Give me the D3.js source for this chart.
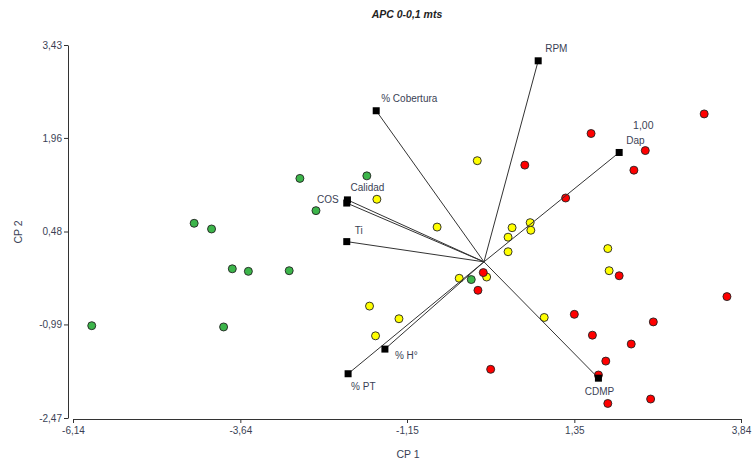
<!DOCTYPE html>
<html>
<head>
<meta charset="utf-8">
<script src="https://cdn.jsdelivr.net/npm/d3@7"></script>
<style>
  body { margin: 0; background: #fff; }
  text { font-family: "Liberation Sans", Arial, sans-serif; }
</style>
</head>
<body>
<div id="chart"></div>
<script>
// APC biplot - scores by group + variable vectors

var xTicks = [-6.14, -3.64, -1.15, 1.35, 3.84];
var yTicks = [-2.47, -0.99, 0.48, 1.96, 3.43];

// scores (CP1, CP2) per group
var greenX = [-5.86, -3.89, -4.33, -4.07, -3.76, -3.52, -2.91, -2.75, -2.51, -1.75, -0.19];
var greenY = [-1.01, -1.03, 0.61, 0.52, -0.11, -0.15, -0.14, 1.32, 0.81, 1.36, -0.28];

var yellowX = [-1.60, -0.10, -0.70, 0.69, 0.42, 0.70, 0.36, 0.36, -0.37, 0.04, -1.71, -1.27, -1.62, 0.90, 1.85, 1.87];
var yellowY = [0.99, 1.60, 0.55, 0.62, 0.54, 0.50, 0.39, 0.16, -0.26, -0.24, -0.70, -0.90, -1.17, -0.88, 0.21, -0.14];

var redX = [0.61, 1.22, -0.01, -0.09, 0.10, 3.29, 1.60, 2.41, 2.24, 2.02, 3.63, 1.35, 2.53, 1.62, 2.20, 1.82, 1.71, 1.85, 2.49];
var redY = [1.53, 1.01, -0.17, -0.45, -1.70, 2.34, 2.03, 1.76, 1.45, -0.22, -0.55, -0.83, -0.95, -1.16, -1.30, -1.57, -1.79, -2.24, -2.17];

// variable vectors
var varNames = ["RPM", "% Cobertura", "COS", "Calidad", "Ti", "Dap", "CDMP", "% H°", "% PT"];
var varX = [0.81, -1.61, -2.05, -2.04, -2.05, 2.02, 1.71, -1.48, -2.03];
var varY = [3.18, 2.39, 0.93, 0.98, 0.32, 1.73, -1.84, -1.38, -1.77];

var scaleLabel = "1,00";
var scaleLabelPos = [2.38, 2.16];

var width = 752, height = 462;

var svg = d3.select("#chart")
    .append("svg")
    .attr("width", width)
    .attr("height", height)
    .style("background-color", "#fff");

var x = d3.scaleLinear().domain([-6.14, 3.84]).range([73, 741]);
var y = d3.scaleLinear().domain([-2.47, 3.43]).range([418, 45]);

var fmt = function (d) { return d.toFixed(2).replace(".", ","); };

// title
svg.append("text")
    .attr("x", 407)
    .attr("y", 18)
    .attr("text-anchor", "middle")
    .style("font-size", "10.5px")
    .style("font-weight", "bold")
    .style("font-style", "italic")
    .style("fill", "#222")
    .text("APC 0-0,1 mts");

// axes
var yAxis = svg.append("g")
    .attr("transform", "translate(68,0)")
    .call(d3.axisLeft(y).tickValues(yTicks).tickFormat(fmt).tickSize(4).tickSizeOuter(0).tickPadding(2));

var xAxis = svg.append("g")
    .attr("transform", "translate(0,419)")
    .call(d3.axisBottom(x).tickValues(xTicks).tickFormat(fmt).tickSize(4).tickSizeOuter(0).tickPadding(4));

[yAxis, xAxis].forEach(function (a) {
    a.select(".domain").attr("stroke", "#333");
    a.selectAll(".tick line").attr("stroke", "#333");
    a.selectAll(".tick text")
        .style("font-family", "Liberation Sans, Arial, sans-serif")
        .style("font-size", "10px")
        .style("fill", "#3a3f55");
});

// axis titles
svg.append("text")
    .attr("x", 408)
    .attr("y", 458)
    .attr("text-anchor", "middle")
    .style("font-size", "10.5px")
    .style("fill", "#3a3f55")
    .text("CP 1");

svg.append("text")
    .attr("transform", "translate(22,232) rotate(-90)")
    .attr("text-anchor", "middle")
    .style("font-size", "10.5px")
    .style("fill", "#3a3f55")
    .text("CP 2");

// points
var groups = [
    { xs: greenX, ys: greenY, fill: "#3cb54a" },
    { xs: yellowX, ys: yellowY, fill: "#ffff00" },
    { xs: redX, ys: redY, fill: "#ff0000" }
];

var pts = svg.append("g").attr("class", "points");
groups.forEach(function (g) {
    pts.selectAll(null)
        .data(d3.range(g.xs.length))
        .enter()
        .append("circle")
        .attr("cx", function (i) { return x(g.xs[i]); })
        .attr("cy", function (i) { return y(g.ys[i]); })
        .attr("r", 4)
        .attr("fill", g.fill)
        .attr("stroke", "#222")
        .attr("stroke-width", 0.9);
});

// vectors
var vecs = varNames.map(function (n, i) { return { name: n, vx: varX[i], vy: varY[i] }; });

// label offsets (px) and anchors
var labelPos = {
    "RPM": [7, -9, "start"],
    "% Cobertura": [5, -9, "start"],
    "COS": [-8, 0, "end"],
    "Calidad": [3, -9, "start"],
    "Ti": [8, -8, "start"],
    "Dap": [7, -8, "start"],
    "CDMP": [1, 17, "middle"],
    "% H°": [10, 10, "start"],
    "% PT": [3, 16, "start"]
};

var vg = svg.append("g").attr("class", "vectors");

vg.selectAll("line")
    .data(vecs)
    .enter()
    .append("line")
    .attr("x1", x(0))
    .attr("y1", y(0))
    .attr("x2", function (d) { return x(d.vx); })
    .attr("y2", function (d) { return y(d.vy); })
    .attr("stroke", "#333")
    .attr("stroke-width", 1);

vg.selectAll("rect")
    .data(vecs)
    .enter()
    .append("rect")
    .attr("x", function (d) { return x(d.vx) - 3.5; })
    .attr("y", function (d) { return y(d.vy) - 3.5; })
    .attr("width", 7)
    .attr("height", 7)
    .attr("fill", "#000");

vg.selectAll("text")
    .data(vecs)
    .enter()
    .append("text")
    .attr("x", function (d) { return x(d.vx) + labelPos[d.name][0]; })
    .attr("y", function (d) { return y(d.vy) + labelPos[d.name][1]; })
    .attr("text-anchor", function (d) { return labelPos[d.name][2]; })
    .style("font-size", "10px")
    .style("fill", "#3a3f55")
    .text(function (d) { return d.name; });

svg.append("text")
    .attr("x", x(scaleLabelPos[0]))
    .attr("y", y(scaleLabelPos[1]) + 4)
    .attr("text-anchor", "middle")
    .style("font-size", "10.5px")
    .style("fill", "#3a3f55")
    .text(scaleLabel);
</script>
</body>
</html>
